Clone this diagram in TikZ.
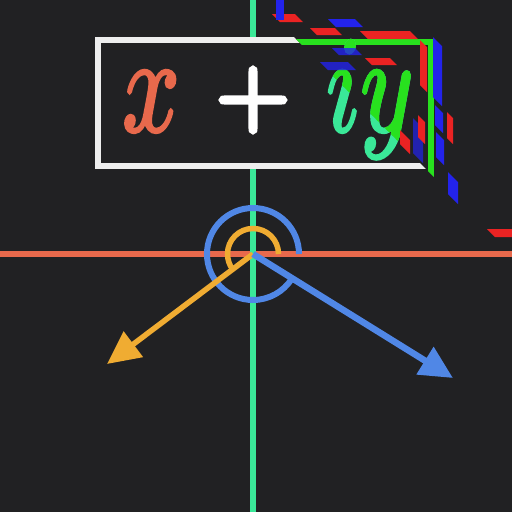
\documentclass[tikz,border=0pt]{standalone}
\usepackage{graphicx}
\usetikzlibrary{arrows.meta}
\definecolor{bg}{RGB}{33,33,35}
\definecolor{seafoam}{RGB}{58,232,152}
\definecolor{tomato}{RGB}{232,105,76}
\definecolor{amber}{RGB}{240,172,50}
\definecolor{skyblue}{RGB}{80,135,230}
\definecolor{boxwhite}{RGB}{238,238,238}
\definecolor{glgreen}{RGB}{40,225,30}
\definecolor{glred}{RGB}{235,35,35}
\definecolor{glblue}{RGB}{35,35,235}
\tikzset{
  axisline/.style={line width=6pt},
  arrowline/.style={-{Triangle[length=33pt,width=31pt]}},
  arcline/.style={line width=6pt},
  bigtext/.style={inner sep=0pt, font=\fontsize{10}{10}\selectfont},
}
\newcommand{\strk}[2]{\special{pdf:literal direct 2 Tr #1 w 0 J 0 j}#2\special{pdf:literal direct 0 Tr}}
\newcommand{\hg}[5]{\fill[#1] (#2,#3) -- ++(#4,0) -- ++(#5,#5) -- ++(-#4,0) -- cycle;}
\newcommand{\vg}[5]{\fill[#1] (#2,#3) -- ++(#4,#4) -- ++(0,#5) -- ++(-#4,-#4) -- cycle;}
\begin{document}
\begin{tikzpicture}[x=1pt,y=-1pt]
\fill[bg] (0,0) rectangle (512,512);
\useasboundingbox (0,0) rectangle (512,512);
\coordinate (O) at (253,254);
\coordinate (L) at (0,254);
\coordinate (R) at (512,254);
\coordinate (T) at (253,0);
\coordinate (B) at (253,512);
\coordinate (A) at (107,364);
\coordinate (C) at (453,378);
% axes
\draw[axisline, tomato] (L) -- (R);
\draw[axisline, seafoam] (T) -- (B);
% box
\fill[bg] (97.5,39.5) rectangle (430.5,166);
\begin{scope}
  \clip (0,-257) -- (-300,0) -- (-300,600) -- (600,600) -- (600,343) -- cycle;
  \draw[line width=6pt, boxwhite] (97.5,39.5) rectangle (430.5,166);
\end{scope}
\begin{scope}
  \clip (0,-257) -- (600,343) -- (600,-300) -- cycle;
  \draw[line width=6pt, glgreen] (250,41.5) -- (430.5,41.5) -- (430.5,200);
\end{scope}
% texts
\node[bigtext, text=tomato, anchor=base] (xt) at (151,131) {\scalebox{10}[13.7]{\strk{0.25}{$x$}}};
\node[bigtext, text=white] (pl) at (253,100) {\scalebox{9.5}{\strk{0.55}{$+$}}};
\node[bigtext, text=seafoam, anchor=base west] (iy) at (326,131) {\scalebox{10}[13.7]{\strk{0.25}{$iy$}}};
\begin{scope}
  \clip (0,-257) -- (600,343) -- (600,-300) -- cycle;
  \node[bigtext, text=glgreen, anchor=base west] at (326,131) {\scalebox{10}[13.7]{\strk{0.25}{$iy$}}};
\end{scope}
% glitch pieces
\hg{glred}{272}{14}{23}{8}
\hg{glred}{310}{28}{25}{7}
\hg{glred}{360}{31}{50}{8}
\hg{glred}{365}{58}{25}{7}
\hg{glred}{487}{229}{25}{8}
\hg{glblue}{328}{19}{27}{8}
\hg{glblue,opacity=0.8}{332}{48}{23}{7}
\hg{glblue,opacity=0.8}{320}{62}{28}{8}
\fill[glblue] (276,0) rectangle (284,20);
\vg{glred}{420}{40}{7}{45}
\vg{glblue}{433}{37}{9}{60}
\vg{glblue}{435}{105}{8}{20}
\vg{glblue}{436}{132}{8}{25}
\vg{glblue}{448}{172}{10}{22}
\vg{glred}{447}{112}{6}{26}
\vg{glblue,opacity=0.7}{413}{118}{10}{35}
\vg{glred}{418}{115}{7}{22}
\vg{glred}{400}{130}{10}{14}
% arcs
\draw[arcline, amber, line width=5.5pt] (O) ++(0:25.5) arc[start angle=0, end angle=-216.5, radius=25.5];
\draw[arcline, skyblue] (O) ++(0:46) arc[start angle=0, end angle=-328, radius=46];
% arrows
\draw[arrowline, amber, line width=5.5pt] (O) -- (A);
\draw[arrowline, skyblue, line width=6.5pt] (O) -- (C);
\end{tikzpicture}
\end{document}
